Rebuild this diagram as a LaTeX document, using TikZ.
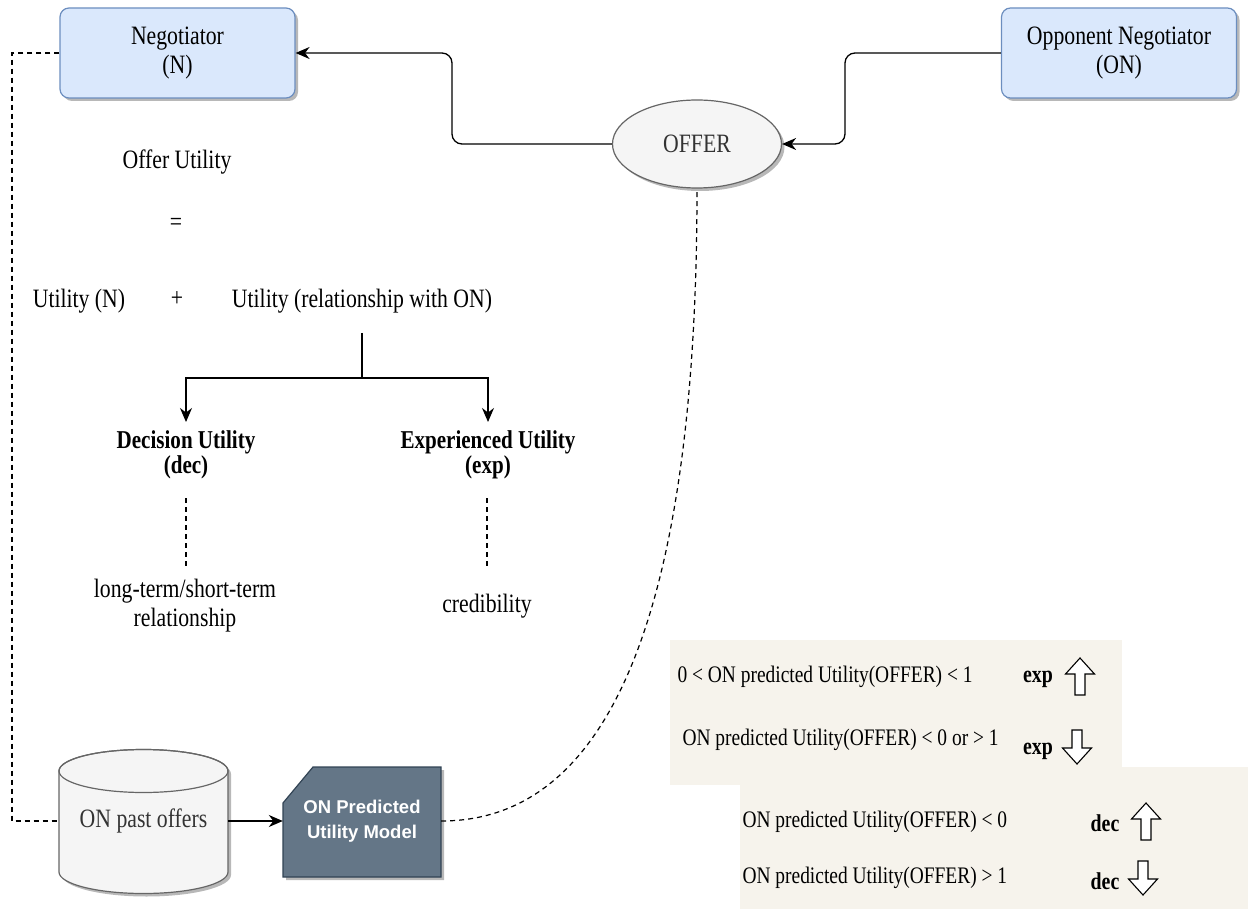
\documentclass[tikz,border=0pt]{standalone}
\usepackage{fontspec}
\setmainfont{Liberation Serif}[FakeStretch=0.82]
\newfontfamily\hvfont{Liberation Sans}
\usetikzlibrary{arrows.meta,shadows,shapes.geometric}
\definecolor{nblue}{HTML}{DAE8FC}
\definecolor{nblueb}{HTML}{6C8EBF}
\definecolor{lgray}{HTML}{F5F5F5}
\definecolor{dgrayb}{HTML}{666666}
\definecolor{txtg}{HTML}{333333}
\definecolor{modelf}{HTML}{647687}
\definecolor{modelb}{HTML}{314354}
\definecolor{beige}{HTML}{F6F3EC}
\begin{document}
\begin{tikzpicture}[x=1pt,y=-1pt,
  font=\fontsize{26.5}{29}\selectfont,
  shad/.style={drop shadow={shadow xshift=3pt,shadow yshift=-3pt,fill=black,opacity=0.28}},
  agent/.style={draw=nblueb,fill=nblue,rounded corners=9,minimum width=235,minimum height=90,line width=1.2,align=center,shad},
  arr/.style={line width=1.3,-{Stealth[length=14pt,width=12pt]}},
  plain/.style={line width=1.3},
  dsh/.style={line width=1.2,dash pattern=on 5pt off 4pt},
  bfnode/.style={font=\bfseries\fontsize{25.7}{25}\selectfont,align=center},
  rfont/.style={font=\fontsize{23.7}{26}\selectfont,anchor=west},
  rbold/.style={font=\bfseries\fontsize{24.2}{26}\selectfont},
  uparr/.pic={\draw[line width=1.1,fill=white,line join=miter] (0,0) -- (14.5,16) -- (5,16) -- (5,37) -- (-5,37) -- (-5,16) -- (-14.5,16) -- cycle;},
  dnarr/.pic={\draw[line width=1.1,fill=white,line join=miter] (0,0) -- (14.5,-16) -- (5,-16) -- (5,-34) -- (-5,-34) -- (-5,-16) -- (-14.5,-16) -- cycle;}
]
\useasboundingbox (0,0) rectangle (1248,909);

% right panels
\fill[beige] (670,640) rectangle (1122,785);
\fill[beige] (740,767) rectangle (1248,909);

% agents
\node[agent] (N) at (177.5,53) {Negotiator\\(N)};
\node[agent] (ON) at (1119,53) {Opponent Negotiator\\(ON)};
\node[draw=dgrayb,fill=lgray,ellipse,minimum width=169,minimum height=88,line width=1.2,shad,text=txtg] (offer) at (697,144) {OFFER};

\coordinate (jl) at (452,53);
\coordinate (jr) at (845,53);
\draw[arr,rounded corners=10] (offer.west) -| (jl) -- (N.east);
\draw[arr,rounded corners=10] (ON.west) -- (jr) |- (offer.east);

% cylinder
\path[fill=lgray,draw=dgrayb,line width=1.2,shad] (59,771) -- (59,872)
  arc[start angle=180,end angle=0,x radius=84.5,y radius=21.5] -- (228,771)
  arc[start angle=0,end angle=-180,x radius=84.5,y radius=21.5] -- cycle;
\draw[draw=dgrayb,line width=1.2] (143.5,771) ellipse[x radius=84.5,y radius=21.5];
\node[minimum width=169,minimum height=143,text=txtg] (cyl) at (143.5,821) {ON past offers};

% model
\path[fill=modelf,draw=modelb,line width=1.2,shad] (313,767) -- (441,767) -- (441,877) -- (283,877) -- (283,803) -- cycle;
\node[minimum width=158,minimum height=110,text=white,font=\hvfont\bfseries\fontsize{18.5}{25}\selectfont,align=center] (model) at (362,821) {ON Predicted\\Utility Model};

\draw[arr] (cyl.east) -- (model.west);
\coordinate (jd) at (12,53);
\draw[dsh] (N.west) -- (jd) |- (cyl.west);
\draw[dsh] (model.east) .. controls (650,821) and (697,500) .. (offer.south);

% formula
\node (ou) at (177,162) {Offer Utility};
\node (eq) at (176,224) {=};
\node (un) at (79,301) {Utility (N)};
\node (plus) at (177,299) {+};
\node (rel) at (362,301) {Utility (relationship with ON)};

\coordinate (ft) at (362,333);
\coordinate (fork) at (362,378);
\coordinate (decin) at (186,422);
\coordinate (expin) at (488,422);
\draw[plain] (ft) -- (fork);
\draw[arr] (fork) -| (decin);
\draw[arr] (fork) -| (expin);

\node[bfnode] (dec) at (186,455) {Decision Utility\\(dec)};
\node[bfnode] (exp) at (488,455) {Experienced Utility\\(exp)};

\coordinate (d1) at (186,498); \coordinate (d2) at (186,568);
\coordinate (e1) at (487,498); \coordinate (e2) at (487,568);
\draw[dsh] (d1) -- (d2);
\draw[dsh] (e1) -- (e2);

\node[align=center] (lt) at (185,606) {long-term/short-term\\relationship};
\node (cred) at (487,606) {credibility};

% right conditions
\node[rfont] (r1) at (674,677) {0 < ON predicted Utility(OFFER) < 1};
\node[rfont] (r2) at (679,740) {ON predicted Utility(OFFER) < 0 or > 1};
\node[rfont] (r3) at (739,822) {ON predicted Utility(OFFER) < 0};
\node[rfont] (r4) at (739,878) {ON predicted Utility(OFFER) > 1};
\node[rbold] (x1) at (1038,679) {exp};
\node[rbold] (x2) at (1038,751) {exp};
\node[rbold] (y1) at (1105,823) {dec};
\node[rbold] (y2) at (1105,881) {dec};
\pic at (1080,658) {uparr};
\pic at (1077,764) {dnarr};
\pic at (1146,803) {uparr};
\pic at (1143,895) {dnarr};
\end{tikzpicture}
\end{document}
